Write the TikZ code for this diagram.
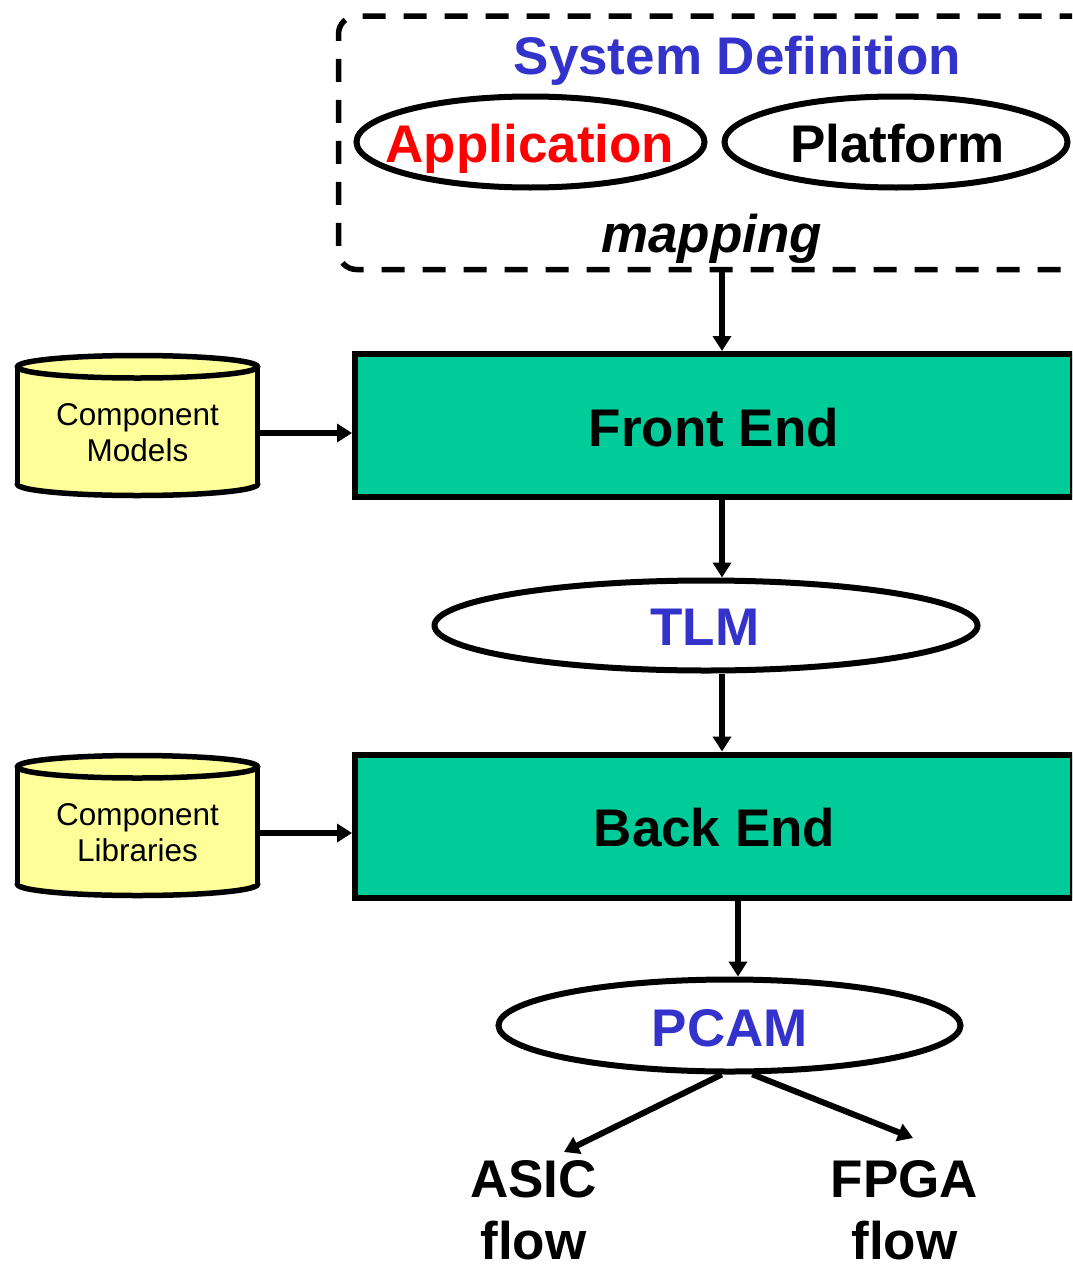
\documentclass[tikz,border=0pt]{standalone}
\usepackage{fontspec}
\setmainfont{Liberation Sans}
\usetikzlibrary{arrows.meta,shapes.geometric,calc}
\definecolor{sysblue}{HTML}{3333CC}
\definecolor{appred}{HTML}{FF0000}
\definecolor{stagegreen}{HTML}{00CC99}
\definecolor{dbyellow}{HTML}{FFFF99}

\begin{document}
\begin{tikzpicture}[x=1pt,y=-1pt,
  txt/.style={inner sep=0pt, anchor=base},
  bigtxt/.style={txt, font=\fontsize{53}{62}\selectfont\bfseries},
  smalltxt/.style={inner sep=0pt, align=center, font=\fontsize{31.5}{36}\selectfont},
  oval/.style={ellipse, draw, line width=6pt, fill=white, inner sep=0pt},
  stage/.style={rectangle, draw, line width=6pt, fill=stagegreen, inner sep=0pt,
                minimum width=718pt, minimum height=143pt},
  frame/.style={rectangle, draw, line width=5.5pt, dash pattern=on 23pt off 18pt,
                rounded corners=18pt, inner sep=0pt},
  arr/.style={line width=6pt, -{Triangle[length=15pt,width=18pt]}},
  cyl/.style={draw, line width=5.5pt, fill=dbyellow},
]
\useasboundingbox (0,0) rectangle (1072,1266);
\clip (0,0) rectangle (1072,1266);

% system definition frame with its two ovals
\node[frame, minimum width=762pt, minimum height=253.5pt] (sysdef) at (719.5,142.75) {};
\node[oval, minimum width=348pt, minimum height=91pt] (app) at (530.5,142) {};
\node[oval, minimum width=343pt, minimum height=91pt] (plat) at (896,142) {};
\node[bigtxt, text=sysblue] (sysdeftxt) at (737.5,74) {System Definition};
\node[bigtxt, text=appred] (apptxt) at (530,162) {Application};
\node[bigtxt] (plattxt) at (897.5,162) {Platform};
\node[txt, font=\fontsize{53}{62}\selectfont\bfseries\itshape] (maptxt) at (711.5,252) {mapping};

% synthesis stages
\node[stage] (front) at (714,425.5) {};
\node[bigtxt] (fronttxt) at (714,446) {Front End};
\node[stage] (back) at (714,826) {};
\node[bigtxt] (backtxt) at (714.5,846) {Back End};

% intermediate models
\node[oval, minimum width=543pt, minimum height=90pt] (tlm) at (706,625.5) {};
\node[bigtxt, text=sysblue] (tlmtxt) at (705,645.7) {TLM};
\node[oval, minimum width=462pt, minimum height=92pt] (pcam) at (729.5,1025.5) {};
\node[bigtxt, text=sysblue] (pcamtxt) at (730,1046.7) {PCAM};

% databases (cylinders)
\foreach \dy in {0,400}{
  \draw[cyl] (137.5,484.25+\dy) ellipse [x radius=120, y radius=11.25];
  \fill[dbyellow] (17.5,366.75+\dy) rectangle (257.5,484.25+\dy);
  \draw[line width=5.5pt] (17.5,366.75+\dy) -- (17.5,484.25+\dy)
                          (257.5,366.75+\dy) -- (257.5,484.25+\dy);
  \draw[cyl] (137.5,366.75+\dy) ellipse [x radius=120, y radius=11.25];
}
\node[smalltxt, minimum width=240pt, minimum height=143pt] (models) at (137.5,433) {Component\\Models};
\node[smalltxt, minimum width=240pt, minimum height=143pt] (libs) at (137.5,833) {Component\\Libraries};

% output flows
\node[bigtxt, anchor=center, align=center] (asic) at (533.5,1210.5) {ASIC\\flow};
\node[bigtxt, anchor=center, align=center] (fpga) at (904.5,1210.5) {FPGA\\flow};

% connectors
\coordinate (axis) at (722,0);
\coordinate (axisb) at (738,0);
\coordinate (asicend) at (564,1152);
\coordinate (fpgaend) at (913,1138);
\draw[arr] (sysdef.south -| axis) -- (front.north -| axis);
\draw[arr] (models.east) -- (models.east -| front.west);
\draw[arr] (front.south -| axis) -- (tlm.north -| axis);
\draw[arr] (tlm.south -| axis) -- (back.north -| axis);
\draw[arr] (libs.east) -- (libs.east -| back.west);
\draw[arr] (back.south -| axisb) -- (pcam.north -| axisb);
\draw[arr] (pcam.261) -- (asicend);
\draw[arr] (pcam.295) -- (fpgaend);
\end{tikzpicture}
\end{document}
